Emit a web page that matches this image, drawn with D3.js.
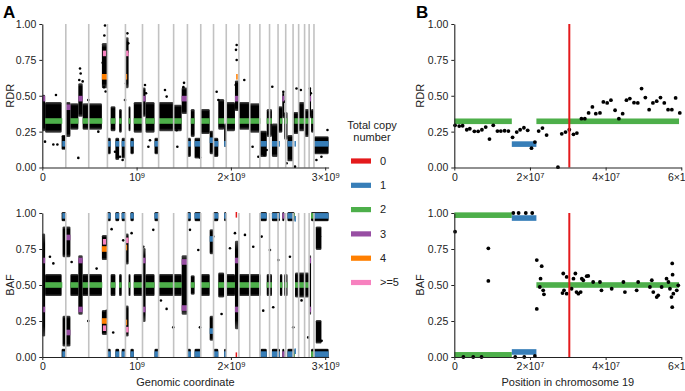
<!DOCTYPE html>
<html>
<head>
<meta charset="utf-8">
<script src="https://cdn.jsdelivr.net/npm/d3@7"></script>
<style>
  body { margin: 0; background: #fff; }
  text { font-family: "Liberation Sans", Arial, Helvetica, sans-serif; }
</style>
</head>
<body>
<div id="chart"></div>
<script>
// ---- data (positions in Mb) ----
const chromLengths = [249.25, 243.2, 198.0, 191.15, 180.9, 171.1, 159.1, 146.4, 141.2, 135.5, 135.0, 133.85,
  115.2, 107.35, 102.5, 90.35, 81.2, 78.1, 59.1, 63.0, 48.1, 51.3, 155.3];

const cnLabels = ["0", "1", "2", "3", "4", ">=5"];
const cnColors = ["#e41a1c", "#377eb8", "#4daf4a", "#984ea3", "#ff7f00", "#f781bf"];

// segments: [start, end, copy number index, RDR, minor BAF]
const segmentsA = [
  [0, 30, 3, 0.48, 0.33], [30, 212, 2, 0.324, 0.5], [212, 249, 1, 0.165, 0.02],
  [249, 298, 3, 0.42, 0.17], [298, 382, 2, 0.324, 0.5], [382, 428, 3, 0.48, 0.33],
  [428, 492, 2, 0.324, 0.5], [492, 636, 2, 0.324, 0.5], [632, 690, 4, 0.632, 0.25],
  [642, 676, 5, 0.795, 0.2], [690, 725, 1, 0.165, 0.02], [725, 775, 2, 0.324, 0.5],
  [775, 815, 1, 0.165, 0.02], [815, 842, 2, 0.324, 0.5], [842, 882, 1, 0.165, 0.02],
  [882, 900, 4, 0.632, 0.24], [882, 915, 5, 0.795, 0.19], [915, 935, 2, 0.324, 0.5],
  [935, 970, 1, 0.165, 0.02], [970, 1062, 2, 0.324, 0.5], [1062, 1095, 3, 0.48, 0.33],
  [1095, 1190, 2, 0.324, 0.5], [1190, 1234, 1, 0.165, 0.02], [1234, 1478, 2, 0.324, 0.5],
  [1478, 1539, 3, 0.48, 0.34], [1539, 1575, 1, 0.165, 0.02], [1575, 1615, 2, 0.324, 0.5],
  [1615, 1680, 1, 0.165, 0.02], [1680, 1775, 2, 0.324, 0.5], [1775, 1816, 1, 0.19, 0.18],
  [1816, 1866, 1, 0.165, 0.02], [1866, 1928, 2, 0.324, 0.5], [1928, 1951, 1, 0.165, 0.02],
  [1951, 2043, 2, 0.324, 0.5], [2043, 2085, 3, 0.48, 0.33], [2056, 2064, 4, 0.632, null],
  [2050, 2056, 0, null, 0.01], [2085, 2315, 2, 0.324, 0.5], [2315, 2380, 1, 0.165, 0.02],
  [2380, 2435, 2, 0.324, 0.5], [2435, 2520, 1, 0.165, 0.02], [2520, 2545, 2, 0.324, 0.5],
  [2545, 2566, 3, 0.48, 0.02], [2566, 2600, 2, 0.324, 0.5], [2600, 2659, 1, 0.165, 0.02],
  [2659, 2674, 2, 0.324, 0.02], [2674, 2680, 1, 0.165, 0.04], [2680, 2830, 2, 0.324, 0.5],
  [2830, 2850, 3, 0.48, 0.33], [2850, 2881, 2, 0.324, 0.02], [2881, 3036, 1, 0.165, 0.02]
];

// dense read-depth clouds: [start, end, low, high]
const rdrBandsA = [
  [0, 30, 0.26, 0.5], [30, 205, 0.25, 0.45], [205, 249, 0.13, 0.22], [249, 298, 0.22, 0.45],
  [298, 382, 0.27, 0.44], [382, 428, 0.36, 0.58], [428, 632, 0.27, 0.44], [632, 690, 0.56, 0.86],
  [690, 725, 0.1, 0.2], [725, 775, 0.26, 0.42], [775, 815, 0.06, 0.2], [815, 842, 0.25, 0.4],
  [842, 882, 0.07, 0.2], [882, 915, 0.56, 0.9], [915, 935, 0.26, 0.42], [935, 970, 0.1, 0.2],
  [970, 1062, 0.25, 0.45], [1062, 1095, 0.36, 0.55], [1095, 1190, 0.25, 0.45], [1190, 1234, 0.1, 0.2],
  [1234, 1393, 0.26, 0.45], [1393, 1478, 0.26, 0.43], [1478, 1539, 0.38, 0.55], [1539, 1575, 0.08, 0.2],
  [1575, 1615, 0.22, 0.4], [1615, 1680, 0.07, 0.2], [1680, 1775, 0.24, 0.4], [1775, 1816, 0.1, 0.25],
  [1816, 1866, 0.08, 0.2], [1866, 1928, 0.27, 0.47], [1928, 1951, 0.15, 0.3], [1951, 2043, 0.26, 0.45],
  [2043, 2085, 0.4, 0.6], [2085, 2200, 0.27, 0.45], [2200, 2307, 0.25, 0.44], [2307, 2380, 0.08, 0.25],
  [2380, 2435, 0.22, 0.4], [2435, 2500, 0.08, 0.3], [2500, 2545, 0.25, 0.42], [2545, 2566, 0.35, 0.52],
  [2566, 2600, 0.2, 0.38], [2600, 2659, 0.05, 0.22], [2659, 2718, 0.24, 0.38], [2718, 2781, 0.26, 0.45],
  [2781, 2830, 0.22, 0.4], [2830, 2850, 0.35, 0.55], [2850, 2881, 0.25, 0.4], [2881, 3036, 0.1, 0.21]
];

// scattered read-depth bins outside the clouds: [position, RDR]
const rdrPointsA = [
  [145, 0.505], [29, 0.18], [117, 0.16], [160, 0.16], [382, 0.067], [400, 0.69], [407, 0.655],
  [392, 0.61], [428, 0.6], [488, 0.47], [594, 0.25], [665, 0.99], [658, 0.92], [647, 0.83], [640, 0.73],
  [654, 0.56], [672, 0.53], [902, 0.935], [912, 0.865], [905, 0.807], [895, 0.7], [888, 0.586],
  [877, 0.47], [771, 0.11], [852, 0.052], [824, 0.075], [1089, 0.575], [1100, 0.517], [1301, 0.54],
  [1319, 0.494], [1125, 0.145], [1142, 0.19], [1425, 0.26], [1432, 0.145], [1503, 0.59], [1496, 0.56],
  [1213, 0.18], [1672, 0.07], [1849, 0.528], [1867, 0.47], [2061, 0.854], [2054, 0.82], [2061, 0.749],
  [2051, 0.575], [2142, 0.61], [2326, 0.19], [2439, 0.563], [2379, 0.122], [2556, 0.528], [2566, 0.459],
  [2591, 0.03], [2680, 0.006], [2742, 0.54], [2696, 0.551], [2837, 0.551], [2848, 0.517], [3024, 0.261],
  [2907, 0.052], [2960, 0.075], [2354, 0.087], [2291, 0.075], [2230, 0.145]
];

// dense allele-frequency clouds: [start, end, low, high]
const bafBandsA = [
  [0, 30, 0.15, 0.85], [30, 205, 0.43, 0.57], [205, 249, 0.95, 1], [205, 249, 0, 0.05],
  [215, 298, 0.7, 0.9], [215, 298, 0.08, 0.28], [298, 382, 0.43, 0.57], [382, 428, 0.3, 0.7],
  [428, 632, 0.43, 0.57], [632, 690, 0.68, 0.84], [632, 690, 0.16, 0.32], [690, 725, 0.95, 1],
  [690, 725, 0, 0.05], [725, 775, 0.43, 0.57], [775, 815, 0.95, 1], [775, 815, 0, 0.05],
  [815, 842, 0.43, 0.57], [842, 882, 0.95, 1], [842, 882, 0, 0.05], [882, 915, 0.65, 0.85],
  [882, 915, 0.15, 0.35], [915, 935, 0.43, 0.57], [935, 970, 0.95, 1], [935, 970, 0, 0.05],
  [970, 1062, 0.43, 0.57], [1062, 1095, 0.25, 0.75], [1095, 1190, 0.43, 0.57], [1190, 1234, 0.95, 1],
  [1190, 1234, 0, 0.05], [1234, 1478, 0.43, 0.57], [1478, 1539, 0.3, 0.7], [1539, 1575, 0.95, 1],
  [1539, 1575, 0, 0.05], [1575, 1615, 0.44, 0.56], [1615, 1680, 0.95, 1], [1615, 1680, 0, 0.05],
  [1680, 1775, 0.43, 0.57], [1775, 1816, 0.72, 0.88], [1775, 1816, 0.12, 0.28], [1816, 1866, 0.95, 1],
  [1816, 1866, 0, 0.05], [1866, 1928, 0.42, 0.58], [1928, 1951, 0.95, 1], [1928, 1951, 0, 0.05],
  [1951, 2043, 0.43, 0.57], [2043, 2085, 0.2, 0.8], [2085, 2315, 0.43, 0.57], [2315, 2380, 0.95, 1],
  [2315, 2380, 0, 0.05], [2380, 2435, 0.43, 0.57], [2435, 2520, 0.95, 1], [2435, 2520, 0, 0.05],
  [2520, 2545, 0.43, 0.57], [2545, 2566, 0.95, 1], [2545, 2566, 0, 0.05], [2566, 2600, 0.43, 0.57],
  [2600, 2674, 0.95, 1], [2600, 2674, 0, 0.05], [2680, 2830, 0.42, 0.58], [2830, 2850, 0.3, 0.7],
  [2850, 3036, 0.95, 1], [2850, 3036, 0, 0.05], [2900, 2960, 0.75, 0.9], [2900, 2960, 0.1, 0.25]
];

const bafPointsA = [
  [81, 0.696], [117, 0.65], [311, 0.66], [488, 0.25], [576, 0.614], [682, 0.32], [735, 0.888],
  [752, 0.17], [858, 0.81], [947, 0.86], [1071, 0.766], [1177, 0.883], [1258, 0.392], [1318, 0.334],
  [1389, 0.206], [1566, 0.883], [1654, 0.743], [1672, 0.206], [1813, 0.836], [1901, 0.299],
  [1990, 0.755], [2043, 0.86], [2149, 0.848], [2237, 0.766], [2326, 0.836], [2343, 0.322],
  [2414, 0.743], [2449, 0.346], [2502, 0.673], [2626, 0.696], [2661, 0.206], [2749, 0.393],
  [2820, 0.136], [2944, 0.836], [2962, 0.112]
];

// chromosome 19 (panel B)
const chr19RdrPos = [0.2, 1.3, 2.2, 3.3, 4.1, 5.3, 6.3, 7.3, 8.3, 9.3, 10.3, 11.4, 12.3, 13.3, 14.3, 15.4,
  16.5, 17.4, 18.4, 19.4, 20.4, 21.3, 22.3, 23.3, 24.4, 27.4, 28.4, 29.4, 30.4, 31.5, 32.4, 33.6, 34.5,
  35.5, 36.5, 37.4, 38.5, 39.4, 40.4, 41.4, 42.5, 43.5, 44.5, 45.5, 46.4, 47.5, 48.5, 49.5, 50.5, 51.5,
  52.5, 53.5, 54.5, 55.5, 56.5, 57.5, 58.5, 59.6];
const chr19Rdr = [0.294, 0.289, 0.291, 0.263, 0.27, 0.252, 0.252, 0.263, 0.282, 0.198, 0.294, 0.254,
  0.254, 0.256, 0.254, 0.21, 0.247, 0.263, 0.277, 0.259, 0.135, 0.177, 0.254, 0.275, 0.226, 0.002, 0.235,
  0.247, 0.263, 0.231, 0.24, 0.34, 0.34, 0.38, 0.422, 0.375, 0.38, 0.457, 0.45, 0.469, 0.399, 0.34, 0.375,
  0.469, 0.48, 0.452, 0.45, 0.55, 0.487, 0.403, 0.45, 0.462, 0.487, 0.45, 0.403, 0.403, 0.485, 0.38];
const chr19BafPos = [0.2, 9.0, 9.0, 2.4, 5.0, 7.2, 15.6, 17.0, 18.9, 20.6, 16.1, 18.5, 21.3, 21.8, 21.8,
  23.1, 22.8, 23.5, 23.7, 22.6, 28.8, 29.7, 29.0, 28.6, 29.7, 31.0, 31.5, 32.0, 32.3, 32.8, 33.7, 34.1,
  33.4, 35.0, 35.4, 36.7, 38.5, 38.9, 41.6, 44.7, 45.1, 48.2, 48.6, 51.7, 52.2, 52.6, 53.5, 53.9, 54.8,
  56.1, 56.6, 57.0, 57.4, 57.6, 57.7, 57.9, 57.6, 58.8, 59.2];
const chr19Baf = [0.87, 0.755, 0.528, 0.0, 0.0, 0.0, 1.0, 1.0, 1.0, 1.0, 0.0, 0.0, 0.007, 0.673, 0.334,
  0.631, 0.544, 0.463, 0.435, 0.486, 0.58, 0.556, 0.463, 0.444, 0.44, 0.474, 0.544, 0.58, 0.451, 0.44,
  0.544, 0.533, 0.451, 0.561, 0.563, 0.521, 0.521, 0.463, 0.474, 0.521, 0.451, 0.463, 0.521, 0.486,
  0.533, 0.451, 0.416, 0.428, 0.486, 0.544, 0.521, 0.474, 0.416, 0.65, 0.572, 0.44, 0.346, 0.463, 0.498];
const segmentsB = [
  [0, 15.2, 2, 0.322, 0.015], [15.2, 21.7, 1, 0.163, 0.035], [21.7, 59.4, 2, 0.322, 0.5]
];
const breakpointB = 30.4;

const xTicksA = [0, 1000, 2000, 3000];
const xTickLabelsA = [["0", ""], ["10", "9"], ["2\u00d710", "9"], ["3\u00d710", "9"]];
const xTicksB = [0, 20, 40, 60];
const xTickLabelsB = [["0", ""], ["2\u00d710", "7"], ["4\u00d710", "7"], ["6\u00d710", "7"]];
const yTicks = [0, 0.25, 0.5, 0.75, 1];

// ---- layout ----
const W = 685, H = 391;
const svg = d3.select("#chart").append("svg").attr("width", W).attr("height", H);

// slightly soft vertical edges for the dense clouds of bins
const grad = svg.append("defs").append("linearGradient")
  .attr("id", "cloud").attr("x1", 0).attr("y1", 0).attr("x2", 0).attr("y2", 1);
grad.append("stop").attr("offset", "0%").attr("stop-color", "#000").attr("stop-opacity", 0.7);
grad.append("stop").attr("offset", "10%").attr("stop-color", "#000").attr("stop-opacity", 1);
grad.append("stop").attr("offset", "90%").attr("stop-color", "#000").attr("stop-opacity", 1);
grad.append("stop").attr("offset", "100%").attr("stop-color", "#000").attr("stop-opacity", 0.7);

const genomeLen = d3.sum(chromLengths);
const chromEnds = d3.cumsum(chromLengths);
const xA = d3.scaleLinear().domain([0, genomeLen]).range([42.3, 42.3 + 94.3 * genomeLen / 1000]);
const xB = d3.scaleLinear().domain([0, 60]).range([454.3, 681.3]);
const yTop = d3.scaleLinear().domain([0, 1]).range([167.5, 24]);
const yBot = d3.scaleLinear().domain([0, 1]).range([357, 213]);

const barH = 5.6;

function drawAxes(x, y, ticks, tickLabels, ylab, ylabX, xlab) {
  const gx = svg.append("g")
    .attr("transform", `translate(0, ${y(0)})`)
    .call(d3.axisBottom(x).tickValues(ticks).tickSize(3).tickPadding(3).tickSizeOuter(0));
  gx.selectAll(".tick text").each(function(d, i) {
    const t = d3.select(this).text(null).attr("font-size", 10.5);
    t.append("tspan").text(tickLabels[i][0]);
    if (tickLabels[i][1]) t.append("tspan").attr("dy", "-0.45em").attr("font-size", 7.5).text(tickLabels[i][1]);
  });
  const gy = svg.append("g")
    .attr("transform", `translate(${x.range()[0]}, 0)`)
    .call(d3.axisLeft(y).tickValues(yTicks).tickFormat(d3.format(".2f")).tickSize(3).tickPadding(3).tickSizeOuter(0));
  gy.selectAll(".tick text").attr("font-size", 10.5).attr("fill", "#222");
  gx.selectAll(".tick text").attr("fill", "#222");
  svg.selectAll(".domain").attr("stroke", "#222").attr("stroke-width", 1.1);
  svg.selectAll(".tick line").attr("stroke", "#222");

  svg.append("text")
    .attr("transform", `translate(${ylabX}, ${(y(0) + y(1)) / 2}) rotate(-90)`)
    .attr("text-anchor", "middle")
    .attr("font-size", 11)
    .attr("fill", "#222")
    .text(ylab);
  if (xlab) {
    svg.append("text")
      .attr("x", (x.range()[0] + x.range()[1]) / 2)
      .attr("y", 386)
      .attr("text-anchor", "middle")
      .attr("font-size", 11)
      .attr("fill", "#222")
      .text(xlab);
  }
}

function drawBands(bands, x, y) {
  svg.append("g").selectAll("rect")
    .data(bands)
    .enter().append("rect")
      .attr("x", d => x(d[0]))
      .attr("width", d => Math.max(1.5, x(d[1]) - x(d[0])))
      .attr("y", d => y(d[3]) - 1)
      .attr("height", d => y(d[2]) - y(d[3]) + 2)
      .attr("rx", 1.2)
      .attr("fill", "url(#cloud)");
}

function drawPoints(px, py, x, y, r) {
  svg.append("g").selectAll("circle")
    .data(px.map((p, i) => [p, py[i]]))
    .enter().append("circle")
      .attr("cx", d => x(d[0]))
      .attr("cy", d => y(d[1]))
      .attr("r", r)
      .attr("fill", "#000");
}

function drawRdrSegments(segs, x, y) {
  svg.append("g").selectAll("rect")
    .data(segs.filter(d => d[3] !== null))
    .enter().append("rect")
      .attr("x", d => x(d[0]))
      .attr("width", d => Math.max(1.5, x(d[1]) - x(d[0])))
      .attr("y", d => y(d[3]) - barH / 2)
      .attr("height", barH)
      .attr("fill", d => cnColors[d[2]]);
}

function drawBafSegments(segs, x, y) {
  const rows = [];
  segs.forEach(d => {
    if (d[4] === null) return;
    rows.push([d[0], d[1], d[2], d[4]]);
    if (Math.abs(d[4] - 0.5) > 0.001) rows.push([d[0], d[1], d[2], 1 - d[4]]);
  });
  svg.append("g").selectAll("rect")
    .data(rows)
    .enter().append("rect")
      .attr("x", d => x(d[0]))
      .attr("width", d => Math.max(1.5, x(d[1]) - x(d[0])))
      .attr("y", d => Math.min(Math.max(y(d[3]) - barH / 2, y(1) - 1), y(0) - barH + 1))
      .attr("height", barH)
      .attr("fill", d => cnColors[d[2]]);
}

function drawChromLines(y) {
  svg.append("g").selectAll("line")
    .data(chromEnds.slice(0, chromEnds.length - 1))
    .enter().append("line")
      .attr("x1", d => xA(d)).attr("x2", d => xA(d))
      .attr("y1", y(1)).attr("y2", y(0))
      .attr("stroke", "#c2c2c2")
      .attr("stroke-width", 1.6);
}

// ---- panel A: RDR ----
drawBands(rdrBandsA, xA, yTop);
drawPoints(rdrPointsA.map(d => d[0]), rdrPointsA.map(d => d[1]), xA, yTop, 1.3);
drawRdrSegments(segmentsA, xA, yTop);
drawChromLines(yTop);
drawAxes(xA, yTop, xTicksA, xTickLabelsA, "RDR", 14, null);

// ---- panel A: BAF ----
drawBands(bafBandsA, xA, yBot);
drawPoints(bafPointsA.map(d => d[0]), bafPointsA.map(d => d[1]), xA, yBot, 1.3);
drawBafSegments(segmentsA, xA, yBot);
drawChromLines(yBot);
drawAxes(xA, yBot, xTicksA, xTickLabelsA, "BAF", 14, "Genomic coordinate");

// ---- panel B: chromosome 19 ----
drawRdrSegments(segmentsB, xB, yTop);
drawPoints(chr19RdrPos, chr19Rdr, xB, yTop, 1.9);
drawBafSegments(segmentsB, xB, yBot);
drawPoints(chr19BafPos, chr19Baf, xB, yBot, 1.9);
[yTop, yBot].forEach(y => {
  svg.append("line")
    .attr("x1", xB(breakpointB)).attr("x2", xB(breakpointB))
    .attr("y1", y(1)).attr("y2", y(0))
    .attr("stroke", "#e41a1c")
    .attr("stroke-width", 2);
});
drawAxes(xB, yTop, xTicksB, xTickLabelsB, "RDR", 424, null);
drawAxes(xB, yBot, xTicksB, xTickLabelsB, "BAF", 424, "Position in chromosome 19");

// ---- panel letters ----
svg.append("text").attr("x", 3).attr("y", 18).attr("font-size", 17).attr("font-weight", "bold").text("A");
svg.append("text").attr("x", 416).attr("y", 18).attr("font-size", 17).attr("font-weight", "bold").text("B");

// ---- legend ----
const legend = svg.append("g");
legend.append("text").attr("x", 372).attr("y", 129).attr("text-anchor", "middle")
  .attr("font-size", 11).attr("fill", "#222").text("Total copy");
legend.append("text").attr("x", 372).attr("y", 141).attr("text-anchor", "middle")
  .attr("font-size", 11).attr("fill", "#222").text("number");
const legendY = d3.scalePoint().domain(cnLabels).range([161, 282.5]);
legend.selectAll("rect")
  .data(cnLabels)
  .enter().append("rect")
    .attr("x", 351).attr("width", 20)
    .attr("y", d => legendY(d) - 2.6).attr("height", 5.2)
    .attr("fill", (d, i) => cnColors[i]);
legend.selectAll("text.lab")
  .data(cnLabels)
  .enter().append("text")
    .attr("class", "lab")
    .attr("x", 380).attr("y", d => legendY(d))
    .attr("dy", "0.35em")
    .attr("font-size", 11).attr("fill", "#222")
    .text(d => d);
</script>
</body>
</html>
